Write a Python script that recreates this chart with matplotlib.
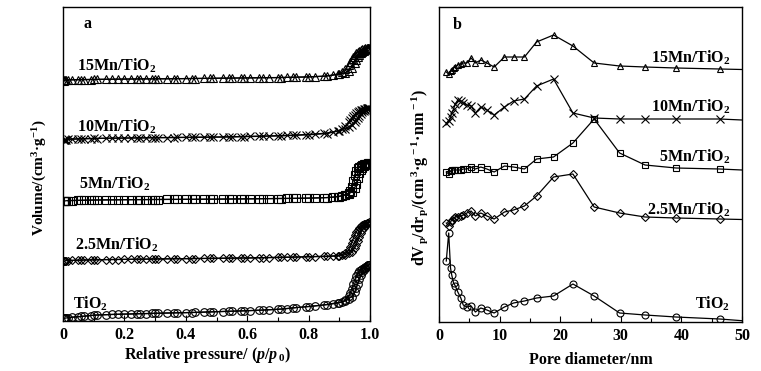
import matplotlib
matplotlib.use("Agg")
import matplotlib.pyplot as plt
from matplotlib.ticker import MultipleLocator, FixedLocator

plt.rcParams['font.family'] = ['Liberation Serif', 'DejaVu Serif']
plt.rcParams['font.weight'] = 'bold'
plt.rcParams['mathtext.fontset'] = 'custom'
plt.rcParams['mathtext.rm'] = 'Liberation Serif:bold'
plt.rcParams['mathtext.it'] = 'Liberation Serif:italic:bold'
plt.rcParams['mathtext.bf'] = 'Liberation Serif:bold'
plt.rcParams['mathtext.default'] = 'rm'

# ---------------- panel a: N2 isotherms (offset, arbitrary units) -------------
PA = [0.002, 0.004, 0.006, 0.01, 0.03, 0.05, 0.07, 0.09, 0.11, 0.14,
      0.18, 0.20, 0.22, 0.24, 0.27, 0.29, 0.31, 0.34, 0.37, 0.40,
      0.43, 0.46, 0.49, 0.52, 0.55, 0.58, 0.61, 0.64, 0.67, 0.70,
      0.73, 0.76, 0.79, 0.82, 0.85, 0.88, 0.90, 0.92, 0.93, 0.94,
      0.95, 0.955, 0.96, 0.965, 0.97, 0.975, 0.98, 0.985, 0.99, 0.995]
PD = [0.015, 0.06, 0.10, 0.16, 0.25, 0.30, 0.36, 0.42, 0.48, 0.54,
      0.59, 0.65, 0.71, 0.75, 0.80, 0.86, 0.895, 0.91, 0.92, 0.93,
      0.935, 0.94, 0.945, 0.95, 0.955, 0.96, 0.965, 0.97, 0.975, 0.98,
      0.985, 0.99, 0.995, 0.998]

tio2_ads = [2.5, 2.6, 2.7, 3.0, 3.8, 4.3, 4.8, 5.4, 6.0, 6.3,
            6.7, 6.9, 7.0, 7.2, 7.4, 7.6, 7.8, 8.0, 8.2, 8.4,
            8.6, 8.9, 9.2, 9.5, 9.8, 10.1, 10.4, 10.8, 11.2, 11.7,
            12.4, 13.4, 14.2, 15.0, 16.0, 17.2, 18.3, 20.0, 22.0, 24.5,
            29.0, 33.0, 37.5, 42.0, 46.0, 49.0, 51.0, 52.8, 54.3, 56.0]
tio2_des = [3.4, 4.6, 5.8, 6.6, 7.3, 7.7, 8.1, 8.5, 9.1, 9.7,
            10.2, 10.9, 11.9, 13.2, 14.5, 16.5, 18.5, 19.5, 21.0, 25.0,
            28.0, 32.0, 37.0, 41.0, 45.0, 48.0, 50.0, 51.5, 52.5, 53.5,
            54.5, 55.2, 55.8, 56.0]
mn25_ads = [59.8, 59.9, 60.0, 60.3, 60.6, 60.8, 61.0, 61.1, 61.2, 61.4,
            61.5, 61.6, 61.7, 61.8, 61.9, 62.0, 62.1, 62.2, 62.3, 62.4,
            62.5, 62.6, 62.7, 62.8, 62.9, 63.0, 63.1, 63.3, 63.5, 63.7,
            63.9, 64.0, 64.2, 64.4, 64.6, 64.8, 65.0, 66.5, 67.7, 69.5,
            73.0, 76.0, 80.0, 84.0, 88.0, 91.0, 93.5, 95.5, 97.0, 98.5]
mn25_des = [60.5, 60.9, 61.2, 61.5, 61.8, 62.0, 62.2, 62.4, 62.6, 62.8,
            63.0, 63.2, 63.6, 63.8, 64.3, 64.7, 65.5, 66.5, 68.0, 71.0,
            74.0, 78.0, 82.0, 86.0, 89.0, 91.5, 93.5, 95.0, 96.0, 97.0,
            97.5, 98.0, 98.5, 98.8]
mn5_ads = [119.8, 119.9, 120.0, 120.3, 120.5, 120.6, 120.8, 120.9, 121.0, 121.1,
           121.2, 121.3, 121.3, 121.4, 121.4, 121.5, 121.5, 121.6, 121.6, 121.7,
           121.7, 121.8, 121.8, 121.9, 122.0, 122.1, 122.2, 122.3, 122.4, 122.5,
           122.6, 122.7, 122.8, 123.0, 123.3, 123.8, 124.5, 126.0, 127.0, 129.0,
           133.0, 137.0, 143.0, 148.0, 151.5, 153.5, 155.0, 156.0, 156.8, 157.3]
mn5_des = [120.4, 120.7, 121.0, 121.2, 121.4, 121.5, 121.6, 121.7, 121.8, 122.0,
           122.1, 122.3, 122.5, 122.6, 122.9, 123.4, 124.5, 125.5, 126.5, 128.0,
           130.0, 134.0, 140.0, 146.0, 150.5, 153.0, 154.5, 155.5, 156.2, 156.8,
           157.2, 157.5, 157.8, 158.0]
mn10_ads = [181.0, 181.1, 181.2, 181.5, 181.8, 182.0, 182.2, 182.4, 182.5, 182.7,
            182.8, 182.9, 183.0, 183.1, 183.2, 183.3, 183.4, 183.5, 183.6, 183.7,
            183.8, 183.9, 184.0, 184.1, 184.3, 184.5, 184.7, 184.9, 185.1, 185.3,
            185.6, 186.0, 186.5, 187.0, 187.7, 189.0, 190.5, 192.5, 194.0, 196.0,
            199.0, 201.0, 203.5, 205.5, 207.5, 209.0, 210.5, 211.5, 212.2, 212.7]
mn10_des = [181.9, 182.3, 182.6, 182.9, 183.1, 183.3, 183.4, 183.6, 183.8, 184.0,
            184.3, 184.7, 185.2, 185.6, 186.2, 187.5, 190.0, 192.0, 195.0, 199.0,
            201.0, 203.0, 205.0, 206.5, 208.0, 209.0, 210.0, 210.8, 211.5, 212.0,
            212.4, 212.7, 213.0, 213.2]
mn15_ads = [240.5, 240.6, 240.7, 241.0, 241.2, 241.3, 241.4, 241.5, 241.6, 241.7,
            241.8, 241.9, 242.0, 242.0, 242.1, 242.1, 242.2, 242.2, 242.3, 242.4,
            242.5, 242.6, 242.7, 242.8, 242.9, 243.0, 243.1, 243.2, 243.3, 243.4,
            243.6, 243.8, 244.0, 244.3, 244.8, 245.8, 246.8, 248.5, 250.5, 253.5,
            258.0, 261.0, 264.0, 266.0, 268.0, 269.5, 270.5, 271.5, 272.2, 272.7]
mn15_des = [241.1, 241.4, 241.6, 241.8, 242.1, 242.2, 242.3, 242.5, 242.7, 242.9,
            243.1, 243.3, 243.5, 243.8, 244.1, 245.0, 247.0, 249.0, 252.0, 256.0,
            259.0, 262.0, 264.5, 266.5, 268.0, 269.2, 270.2, 271.0, 271.7, 272.2,
            272.6, 273.0, 273.3, 273.5]

# ---------------- panel b: pore size distributions (offset) -------------------
D = [1.2, 1.6, 1.9, 2.1, 2.4, 2.7, 3.1, 3.6, 4.0, 4.6,
     5.3, 6.0, 6.9, 7.9, 9.1, 10.8, 12.3, 14.1, 16.1, 18.9,
     22.1, 25.6, 29.8, 34.0, 39.1, 46.3]
D_edge = 50.0
psd_tio2 = [61, 89, 54, 47, 39, 36, 30, 24, 17, 15, 16, 10, 14, 12, 9, 15, 19, 21, 24, 26,
            38, 26, 9, 7, 5, 3]
psd_mn25 = [99, 96, 100, 102, 104, 105, 105.5, 106, 107, 109, 111, 106, 109, 106, 103, 110,
            112, 116, 126, 145, 148, 115, 109, 105, 104, 103]
psd_mn5 = [150, 148, 151, 152, 152, 152, 152, 152, 153, 153, 155, 153, 155, 153, 150, 156,
           155, 153, 163, 165, 179, 203, 169, 157, 154, 153]
psd_mn10 = [199, 201, 205, 209, 213, 218, 222, 221, 219, 217, 216, 209, 215, 212, 207, 215,
            221, 223, 236, 243, 209, 204, 203, 203, 203, 203]
psd_mn15 = [250, 248, 251, 252, 254, 255, 257, 258, 259, 259, 264, 259, 262, 259, 255, 265,
            265, 265, 280, 287, 276, 259, 256, 255, 254, 253]
psd_edge = {'tio2': 1.3, 'mn25': 102.5, 'mn5': 152, 'mn10': 202, 'mn15': 252.5}

names = ['TiO$_2$', '2.5Mn/TiO$_2$', '5Mn/TiO$_2$', '10Mn/TiO$_2$', '15Mn/TiO$_2$']
markers = ['o', 'D', 's', 'x', '^']

W, H = 761, 371
fig = plt.figure(figsize=(W / 100, H / 100), dpi=100)
axa = fig.add_axes([63 / W, (H - 321) / H, 307 / W, 314 / H])
axb = fig.add_axes([439 / W, (H - 322) / H, 303 / W, 315 / H])

def mk_style(m, ms):
    return dict(marker=m, markersize=ms, markerfacecolor='none', markeredgecolor='black',
                markeredgewidth=0.8, color='black', linewidth=0.9)

ads = [tio2_ads, mn25_ads, mn5_ads, mn10_ads, mn15_ads]
des = [tio2_des, mn25_des, mn5_des, mn10_des, mn15_des]
msa = [5.5, 4.5, 5.5, 5.5, 5.5]
for i in range(5):
    axa.plot(PA, ads[i], **mk_style(markers[i], msa[i]))
    axa.plot(PD, des[i], **mk_style(markers[i], msa[i]))

FS_TICK = 11.5
FS_LAB = 11.5

axa.set_xlim(0, 1.0)
axa.set_ylim(0, 314)
axa.xaxis.set_major_locator(FixedLocator([0, 0.2, 0.4, 0.6, 0.8, 1.0]))
axa.set_xticklabels(['0', '0.2', '0.4', '0.6', '0.8', '1.0'])
axa.xaxis.set_minor_locator(MultipleLocator(0.1))
axa.set_yticks([])
axa.tick_params(axis='x', which='major', direction='in', length=4, width=0.8,
                labelsize=FS_TICK, pad=4.5)
axa.tick_params(axis='x', which='minor', direction='in', length=3, width=0.8)
axa.set_xlabel(r'Relative pressure/ ($\mathit{p}$/$\mathit{p}_{\,0}$)', fontsize=FS_LAB,
               fontweight='bold')
axa.xaxis.set_label_coords(0.47, (321 - 355) / 314)
axa.xaxis.label.set_va('center')
axa.set_ylabel(r'Volume/(cm$^3$·g$^{-1}$)', fontsize=11, fontweight='bold')
axa.yaxis.set_label_coords((40 - 63) / 307, 0.455)
axa.yaxis.label.set_va('center')

lab_a = [(73, 304), (75, 245), (79, 184), (77, 127), (77, 66)]
for (x, y), n in zip(lab_a, names):
    fig.text(x / W, 1 - y / H, n, fontsize=FS_LAB, fontweight='bold', ha='left', va='center')
fig.text(87 / W, 1 - 24 / H, 'a', fontsize=FS_LAB, fontweight='bold', ha='center', va='center')

psds = [psd_tio2, psd_mn25, psd_mn5, psd_mn10, psd_mn15]
keys = ['tio2', 'mn25', 'mn5', 'mn10', 'mn15']
msb = [5.0, 3.8, 5.0, 6.0, 5.0]
for i in range(5):
    xs = D + [D_edge]
    ys = psds[i] + [psd_edge[keys[i]]]
    axb.plot(xs, ys, markevery=list(range(len(D))), **mk_style(markers[i], msb[i]))

axb.set_xlim(0, 50)
axb.set_ylim(0, 315)
axb.xaxis.set_major_locator(MultipleLocator(10))
axb.xaxis.set_minor_locator(MultipleLocator(5))
axb.set_yticks([])
axb.tick_params(axis='x', which='major', direction='in', length=4, width=0.8,
                labelsize=FS_TICK, pad=4.5)
axb.tick_params(axis='x', which='minor', direction='in', length=3, width=0.8)
axb.set_xlabel('Pore diameter/nm', fontsize=FS_LAB, fontweight='bold')
axb.xaxis.set_label_coords(0.5, (322 - 360) / 315)
axb.xaxis.label.set_va('center')
axb.set_ylabel(r'dV$_{\,\mathrm{p}}$/dr$_{\,\mathrm{p}}$/(cm$^{\,3}$·g$^{\,-1}$·nm$^{\,-1}$)',
               fontsize=11.5, fontweight='bold')
axb.yaxis.set_label_coords((420 - 439) / 303, 0.46)
axb.yaxis.label.set_va('center')

lab_b = [(730, 304), (730, 210), (730, 157), (730, 107), (730, 58)]
for (x, y), n in zip(lab_b, names):
    fig.text(x / W, 1 - y / H, n, fontsize=FS_LAB, fontweight='bold', ha='right', va='center')
fig.text(457 / W, 1 - 25 / H, 'b', fontsize=FS_LAB, fontweight='bold', ha='center', va='center')

for ax in (axa, axb):
    for s in ax.spines.values():
        s.set_linewidth(1.0)

fig.savefig('out.png', dpi=100)
